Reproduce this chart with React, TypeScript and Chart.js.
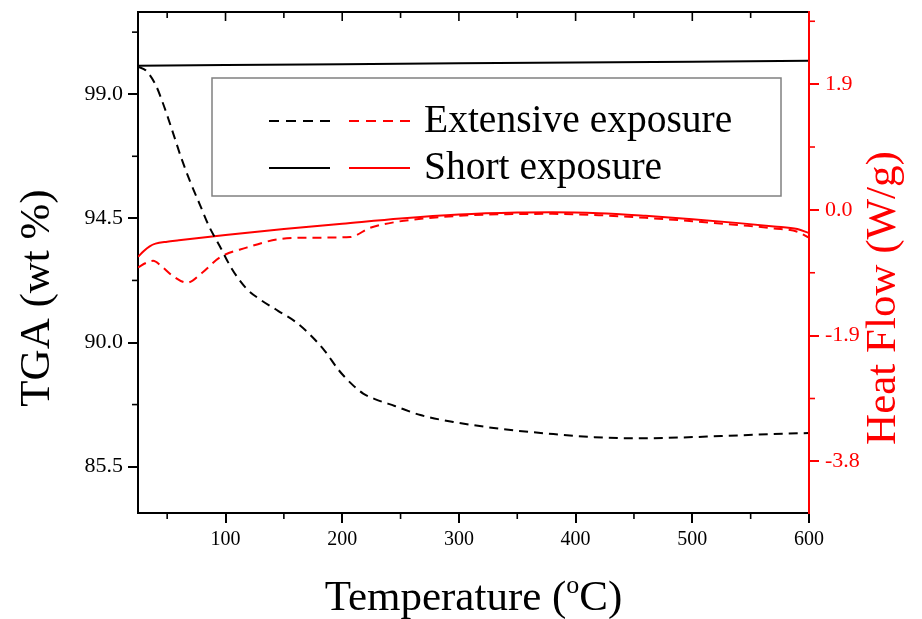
import React, { useEffect, useRef } from "react";
import { Chart, registerables } from "chart.js";

Chart.register(...registerables);

const FONT = "'Liberation Serif', 'Times New Roman', Times, serif";

// Temperature (°C) / TGA (wt %) — short exposure (solid black)
const shortTgaT = [25, 100, 200, 300, 400, 500, 600];
const shortTgaV = [100.03, 100.06, 100.09, 100.12, 100.15, 100.18, 100.21];

// extensive exposure TGA (dashed black)
const extTgaT = [25, 32, 40, 47, 55, 62, 70, 78, 86, 95, 105, 118, 130, 145, 160, 172, 185, 197, 208, 218, 228, 245, 267, 295, 338, 381, 416, 450, 476, 525, 568, 600];
const extTgaV = [100.0, 99.85, 99.35, 98.6, 97.6, 96.7, 95.8, 95.0, 94.2, 93.5, 92.7, 91.95, 91.55, 91.15, 90.75, 90.3, 89.7, 89.0, 88.5, 88.15, 87.95, 87.7, 87.37, 87.12, 86.86, 86.68, 86.57, 86.53, 86.54, 86.61, 86.68, 86.72];

// short exposure heat flow (solid red), W/g
const shortHfT = [25, 30, 35, 40, 50, 60, 100, 150, 200, 250, 300, 350, 380, 420, 460, 500, 540, 570, 590, 600];
const shortHfV = [-0.71, -0.62, -0.55, -0.51, -0.48, -0.46, -0.38, -0.29, -0.21, -0.13, -0.07, -0.04, -0.035, -0.05, -0.09, -0.14, -0.2, -0.25, -0.29, -0.35];

// extensive exposure heat flow (dashed red), W/g
const extHfT = [25, 32, 38, 45, 55, 67, 80, 95, 118, 147, 175, 207, 224, 247, 270, 300, 340, 380, 420, 460, 500, 540, 570, 590, 600];
const extHfV = [-0.87, -0.8, -0.77, -0.85, -1.0, -1.1, -0.95, -0.72, -0.57, -0.44, -0.42, -0.41, -0.27, -0.18, -0.13, -0.09, -0.065, -0.06, -0.08, -0.12, -0.17, -0.23, -0.28, -0.33, -0.42];

// axes
const xMajor = [100, 200, 300, 400, 500, 600];
const xMinor = [50, 150, 250, 350, 450, 550];
const tgaMajor = [85.5, 90.0, 94.5, 99.0];
const tgaMinor = [87.75, 92.25, 96.75, 101.25];
const hfMajor = [-3.8, -1.9, 0.0, 1.9];
const hfMinor = [-2.85, -0.95, 0.95, 2.85];

const legendLabels = ["Extensive exposure", "Short exposure"];
const xTitle = ["Temperature (", "o", "C)"];
const yTitle = "TGA (wt %)";
const y2Title = "Heat Flow (W/g)";

const pts = (t: number[], v: number[]) => t.map((x, i) => ({ x, y: v[i] }));

const decor = {
  id: "decor",
  beforeDraw(chart: any) {
    const ctx = chart.ctx;
    ctx.save();
    ctx.fillStyle = "#fff";
    ctx.fillRect(0, 0, chart.width, chart.height);
    ctx.restore();
  },
  afterDraw(chart: any) {
    const ctx = chart.ctx;
    const { left, right, top, bottom } = chart.chartArea;
    const xs = chart.scales.x;
    const yl = chart.scales.y;
    const yr = chart.scales.y2;
    const line = (x1: number, y1: number, x2: number, y2: number) => {
      ctx.beginPath();
      ctx.moveTo(x1, y1);
      ctx.lineTo(x2, y2);
      ctx.stroke();
    };
    ctx.save();
    ctx.lineCap = "butt";
    // top frame
    ctx.strokeStyle = "#000";
    ctx.lineWidth = 2;
    line(left - 1, top, right, top);
    // minor ticks
    ctx.lineWidth = 1.6;
    xMinor.forEach((v) => {
      const p = xs.getPixelForValue(v);
      line(p, bottom, p, bottom + 6);
      line(p, top, p, top + 6);
    });
    xMajor.forEach((v) => {
      const p = xs.getPixelForValue(v);
      if (p < right - 2) line(p, top, p, top + 9);
    });
    tgaMinor.forEach((v) => {
      const p = yl.getPixelForValue(v);
      line(left, p, left - 6, p);
    });
    ctx.strokeStyle = "#ff0000";
    hfMinor.forEach((v) => {
      const p = yr.getPixelForValue(v);
      line(right, p, right + 6, p);
    });
    ctx.lineWidth = 2;
    line(right, top - 1, right, bottom + 1);

    // legend
    const bx = 212, by = 78, bw = 569, bh = 118;
    ctx.fillStyle = "#fff";
    ctx.fillRect(bx, by, bw, bh);
    ctx.strokeStyle = "#808080";
    ctx.lineWidth = 1.5;
    ctx.strokeRect(bx, by, bw, bh);
    const rows = [121, 168];
    ctx.lineWidth = 2;
    rows.forEach((ry, i) => {
      ctx.setLineDash(i === 0 ? [10, 7] : []);
      ctx.strokeStyle = "#000";
      line(269, ry, 330, ry);
      ctx.strokeStyle = "#ff0000";
      line(349, ry, 410, ry);
    });
    ctx.setLineDash([]);
    ctx.fillStyle = "#000";
    ctx.font = `39.5px ${FONT}`;
    ctx.textAlign = "left";
    ctx.textBaseline = "middle";
    rows.forEach((ry, i) => ctx.fillText(legendLabels[i], 424, ry + 1));

    // axis titles
    ctx.font = `43px ${FONT}`;
    ctx.textAlign = "center";
    ctx.textBaseline = "middle";
    ctx.save();
    ctx.translate(38, 298);
    ctx.rotate(-Math.PI / 2);
    ctx.fillStyle = "#000";
    ctx.fillText(yTitle, 0, 0);
    ctx.restore();
    ctx.save();
    ctx.translate(884, 298);
    ctx.rotate(-Math.PI / 2);
    ctx.fillStyle = "#ff0000";
    ctx.fillText(y2Title, 0, 0);
    ctx.restore();

    // x title with superscript
    ctx.fillStyle = "#000";
    ctx.textAlign = "left";
    ctx.textBaseline = "alphabetic";
    const bigF = `43px ${FONT}`;
    const smallF = `26px ${FONT}`;
    ctx.font = bigF;
    const w1 = ctx.measureText(xTitle[0]).width;
    const w3 = ctx.measureText(xTitle[2]).width;
    ctx.font = smallF;
    const w2 = ctx.measureText(xTitle[1]).width;
    const total = w1 + w2 + w3;
    const cx = (left + right) / 2;
    const x0 = cx - total / 2;
    const base = 610;
    ctx.font = bigF;
    ctx.fillText(xTitle[0], x0, base);
    ctx.font = smallF;
    ctx.fillText(xTitle[1], x0 + w1, base - 17);
    ctx.font = bigF;
    ctx.fillText(xTitle[2], x0 + w1 + w2, base);
    ctx.restore();
  },
};

export default function App() {
  const ref = useRef<HTMLCanvasElement>(null);
  useEffect(() => {
    if (!ref.current) return;
    const chart = new Chart(ref.current, {
      type: "line",
      data: {
        datasets: [
          {
            label: "Short TGA",
            data: pts(shortTgaT, shortTgaV),
            borderColor: "#000",
            borderWidth: 2,
            yAxisID: "y",
          },
          {
            label: "Extensive TGA",
            data: pts(extTgaT, extTgaV),
            borderColor: "#000",
            borderWidth: 2,
            borderDash: [9, 6],
            yAxisID: "y",
          },
          {
            label: "Short HF",
            data: pts(shortHfT, shortHfV),
            borderColor: "#ff0000",
            borderWidth: 2,
            yAxisID: "y2",
          },
          {
            label: "Extensive HF",
            data: pts(extHfT, extHfV),
            borderColor: "#ff0000",
            borderWidth: 2,
            borderDash: [9, 6],
            yAxisID: "y2",
          },
        ],
      },
      options: {
        responsive: false,
        animation: false,
        devicePixelRatio: 1,
        layout: { padding: { top: 12, left: 0, right: 0, bottom: 0 } },
        elements: {
          point: { radius: 0 },
          line: { cubicInterpolationMode: "monotone", fill: false },
        },
        plugins: { legend: { display: false }, tooltip: { enabled: false } },
        scales: {
          x: {
            type: "linear",
            position: "bottom",
            min: 25,
            max: 600,
            afterBuildTicks: (s: any) => {
              s.ticks = xMajor.map((v) => ({ value: v }));
            },
            afterFit: (s: any) => {
              s.height = 106;
              s.paddingLeft = 0;
              s.paddingRight = 0;
            },
            ticks: {
              color: "#000",
              font: { family: FONT, size: 20 },
              padding: 5,
              maxRotation: 0,
              autoSkip: false,
              callback: (v: any) => String(v),
            },
            grid: { drawOnChartArea: false, drawTicks: true, tickLength: 10, color: "#000", lineWidth: 2 },
            border: { display: true, color: "#000", width: 2 },
          },
          y: {
            type: "linear",
            position: "left",
            min: 83.82,
            max: 101.98,
            afterBuildTicks: (s: any) => {
              s.ticks = tgaMajor.map((v) => ({ value: v }));
            },
            afterFit: (s: any) => {
              s.width = 138;
              s.paddingTop = 0;
              s.paddingBottom = 0;
            },
            ticks: {
              color: "#000",
              font: { family: FONT, size: 22 },
              padding: 5,
              autoSkip: false,
              callback: (v: any) => Number(v).toFixed(1),
            },
            grid: { drawOnChartArea: false, drawTicks: true, tickLength: 10, color: "#000", lineWidth: 2 },
            border: { display: true, color: "#000", width: 2 },
          },
          y2: {
            type: "linear",
            position: "right",
            min: -4.58,
            max: 2.99,
            afterBuildTicks: (s: any) => {
              s.ticks = hfMajor.map((v) => ({ value: v }));
            },
            afterFit: (s: any) => {
              s.width = 113;
              s.paddingTop = 0;
              s.paddingBottom = 0;
            },
            ticks: {
              color: "#ff0000",
              font: { family: FONT, size: 22 },
              padding: 6,
              autoSkip: false,
              callback: (v: any) => Number(v).toFixed(1),
            },
            grid: { drawOnChartArea: false, drawTicks: true, tickLength: 10, color: "#ff0000", lineWidth: 2 },
            border: { display: true, color: "#ff0000", width: 2 },
          },
        },
      },
      plugins: [decor],
    });
    return () => chart.destroy();
  }, []);
  return (
    <div style={{ position: "absolute", left: 0, top: 0, width: 922, height: 619, background: "#fff" }}>
      <canvas ref={ref} width={922} height={619} style={{ display: "block", width: 922, height: 619 }} />
    </div>
  );
}
